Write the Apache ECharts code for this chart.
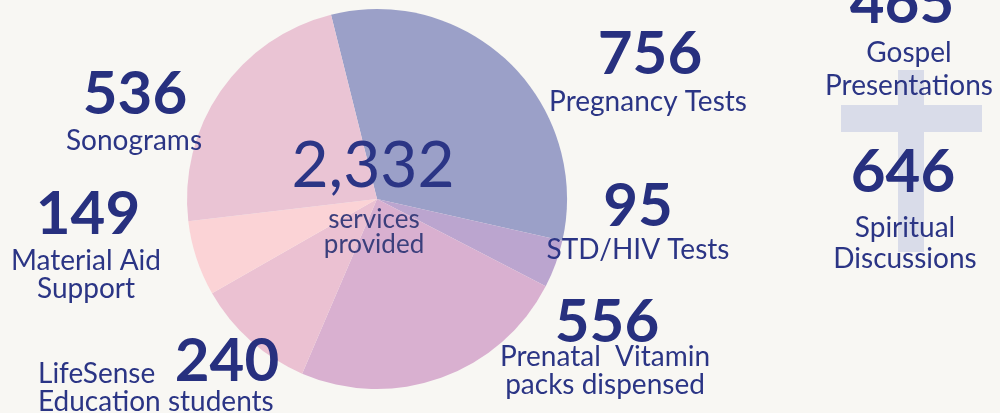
<!DOCTYPE html>
<html>
<head>
<meta charset="utf-8">
<script src="https://cdn.jsdelivr.net/npm/echarts@6/dist/echarts.min.js"></script>
<style>
html,body{margin:0;padding:0;background:#f8f7f3;}
#chart{width:1000px;height:413px;}
</style>
</head>
<body>
<div id="chart"></div>
<script>
// ---- data ----
var categories = ['Pregnancy Tests', 'STD/HIV Tests', 'Prenatal  Vitamin\npacks dispensed', 'LifeSense\nEducation students', 'Material Aid\nSupport', 'Sonograms'];
var values = [756, 95, 556, 240, 149, 536];
var sliceColors = ['#9ba0c8', '#bba5cf', '#d9b0d0', '#ebc1d2', '#fbd3d6', '#eac4d4'];
var totalValue = 2332;
var totalCaption = ['services', 'provided'];
var spiritualLabels = ['Gospel\nPresentations', 'Spiritual\nDiscussions'];
var spiritualValues = [465, 646];

// ---- layout (positions only) ----
var numPos = [[650, 55], [638, 207], [607, 323], [227, 362], [88, 215], [135, 95]];
var labPos = [[648, 102], [638, 250], [605, 371], [38, 388], [86, 275], [134, 141]];
var labAlign = ['center', 'center', 'center', 'left', 'center', 'center'];
var spNumPos = [[902, 4], [903, 173]];
var spLabPos = [[909, 69], [905, 243]];

var navy = '#27307f';
var numFont = 'Lato';
var labFont = 'Lato';

var chart = echarts.init(document.getElementById('chart'), null, {renderer: 'canvas'});

var graphics = [];
// cross
graphics.push({type: 'rect', shape: {x: 898, y: 70, width: 26, height: 182}, style: {fill: '#d9dce9'}, z: 1});
graphics.push({type: 'rect', shape: {x: 841, y: 105, width: 141, height: 27}, style: {fill: '#d9dce9'}, z: 1});

function addText(x, y, text, size, weight, color, align, lh, fam) {
  var st = {text: text, x: x, y: y, fill: color, font: weight + ' ' + size + 'px ' + (fam || labFont), textAlign: align, textVerticalAlign: 'middle', lineHeight: lh};
  graphics.push({type: 'text', style: st, z: 10});
}

for (var i = 0; i < values.length; i++) {
  addText(numPos[i][0], numPos[i][1], String(values[i]), 60, 'bold', navy, 'center', 60, numFont);
  addText(labPos[i][0], labPos[i][1], categories[i], 28, 'normal', '#2b3585', labAlign[i], 28);
}
for (var j = 0; j < spiritualValues.length; j++) {
  addText(spNumPos[j][0], spNumPos[j][1], String(spiritualValues[j]), 60, 'bold', navy, 'center', 60, numFont);
  addText(spLabPos[j][0], spLabPos[j][1], spiritualLabels[j], 28, 'normal', '#2b3585', 'center', j === 0 ? 33 : 31);
}
// center total
graphics.push({type: 'text', z: 20, style: {text: totalValue.toLocaleString('en-US'), x: 373, y: 166, fill: '#2b3585', font: 'normal 64px ' + numFont, textAlign: 'center', textVerticalAlign: 'middle', shadowColor: 'rgba(0,0,0,0.35)', shadowBlur: 4, shadowOffsetX: 1, shadowOffsetY: 2}});
graphics.push({type: 'text', z: 20, style: {text: totalCaption.join('\n'), x: 374, y: 232, fill: '#3b3f7c', font: 'normal 26px ' + labFont, textAlign: 'center', textVerticalAlign: 'middle', lineHeight: 25}});

chart.setOption({
  backgroundColor: '#f8f7f3',
  animation: false,
  graphic: graphics,
  series: [{
    type: 'pie',
    center: [377, 199],
    radius: [0, 190],
    startAngle: 104,
    clockwise: true,
    label: {show: false},
    labelLine: {show: false},
    silent: true,
    itemStyle: {borderWidth: 0},
    data: values.map(function (v, k) {
      return {name: categories[k], value: v, itemStyle: {color: sliceColors[k]}};
    })
  }]
});
</script>
</body>
</html>
